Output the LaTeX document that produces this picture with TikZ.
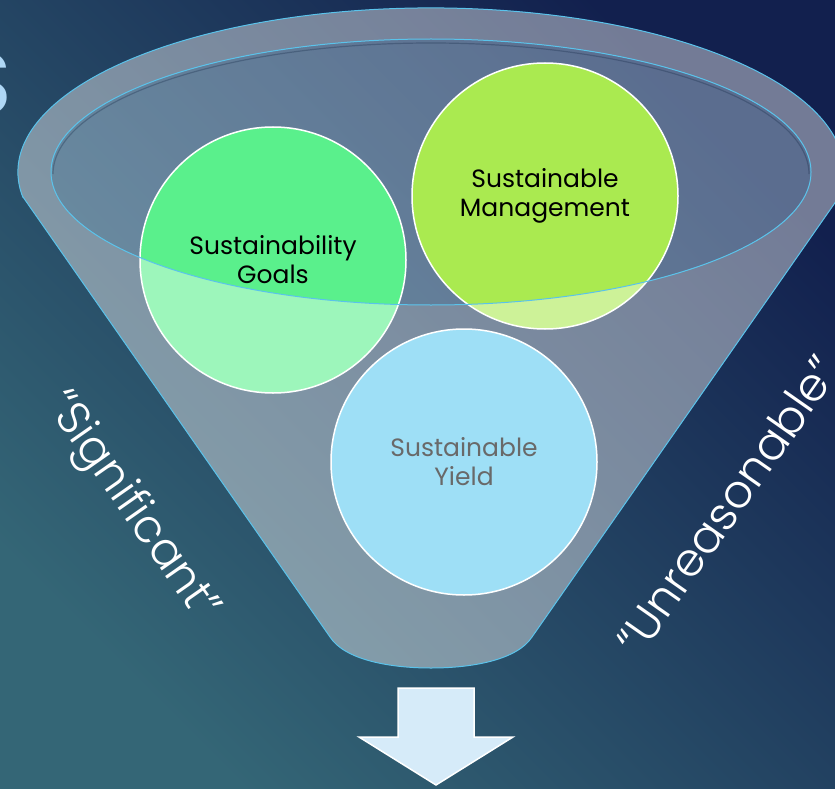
\documentclass[tikz,border=0pt]{standalone}
\usepackage{fontspec}
\setmainfont{Poppins}
\newfontfamily\thinfont{Poppins}[UprightFont={* Light}]

\definecolor{bgteal}{RGB}{52,102,118}
\definecolor{bgnavy}{RGB}{18,32,78}
\definecolor{rimline}{RGB}{90,195,235}
\definecolor{mouthfill}{RGB}{210,235,250}
\definecolor{mouthshade}{RGB}{20,40,70}
\definecolor{goalgreen}{RGB}{90,240,140}
\definecolor{mgmtlime}{RGB}{170,234,80}
\definecolor{yieldblue}{RGB}{91,202,241}
\definecolor{arrowfill}{RGB}{214,235,249}
\definecolor{titleblue}{RGB}{175,215,245}

\begin{document}
\begin{tikzpicture}[x=1pt,y=-1pt,
  bubble/.style={circle,draw=white,line width=1.5pt,minimum size=266pt,inner sep=0pt,
                 align=center,text=black,font=\fontsize{25}{29}\selectfont},
  sidetext/.style={text=white,inner sep=0pt,font=\thinfont\fontsize{46}{50}\selectfont}]
  \pgfmathsetmacro\fcx{431}    % funnel axis
  \pgfmathsetmacro\fcy{172}    % centre of the mouth
  \pgfmathsetmacro\mrx{380}    % mouth radii
  \pgfmathsetmacro\mry{133}

% background
  \clip (0,0) rectangle (835,789);
  \shade[top color=bgnavy,bottom color=bgteal,shading angle=-45] (0,0) rectangle (835,789);

% title letter cut off at left
  \node[anchor=east,inner sep=0pt,text=titleblue,font=\fontsize{88}{90}\selectfont] (title) at (12,84) {S};

% mouth of the funnel
  \fill[mouthfill,fill opacity=0.38] (\fcx,\fcy) ellipse [x radius=\mrx,y radius=\mry];
  \draw[mouthshade,opacity=0.3,line width=1.2pt] (\fcx-\mrx+2,\fcy+2)
       arc[start angle=180,end angle=360,x radius=\mrx-2,y radius=\mry-2];

% circles
  \node[bubble,fill=goalgreen] (goals) at (273,260) {Sustainability\\Goals};
  \node[bubble,fill=mgmtlime]  (mgmt)  at (545,196) {Sustainable\\Management};
  \node[bubble,fill=yieldblue] (yield) at (464,462) {Sustainable\\Yield};

% funnel body, mouth left open
  \fill[white,fill opacity=0.41,even odd rule]
       (23,197) -- (330,637) .. controls (345,660) and (390,668) .. (\fcx,668)
       .. controls (472,668) and (517,660) .. (532,637) -- (839,197)
       arc[start angle=8.8,end angle=-188.8,x radius=413,y radius=164] -- cycle
       (\fcx,\fcy) ellipse [x radius=\mrx,y radius=\mry];
  \draw[rimline,line width=1pt]
       (23,197) -- (330,637) .. controls (345,660) and (390,668) .. (\fcx,668)
       .. controls (472,668) and (517,660) .. (532,637) -- (839,197)
       arc[start angle=8.8,end angle=-188.8,x radius=413,y radius=164] -- cycle;
  \draw[rimline,line width=1pt] (\fcx,\fcy) ellipse [x radius=\mrx,y radius=\mry];

% side labels
  \node[sidetext,rotate=-55] (signif) at (131,507) {“Significant”};
  \node[sidetext,rotate=55]  (unreas) at (727,505) {“Unreasonable”};

% arrow out of the funnel
  \filldraw[fill=arrowfill,draw=white,line width=1.5pt]
       (398,688) -- (474,688) -- (474,737) -- (513,737) -- (436,785)
       -- (359,737) -- (398,737) -- cycle;
\end{tikzpicture}
\end{document}
